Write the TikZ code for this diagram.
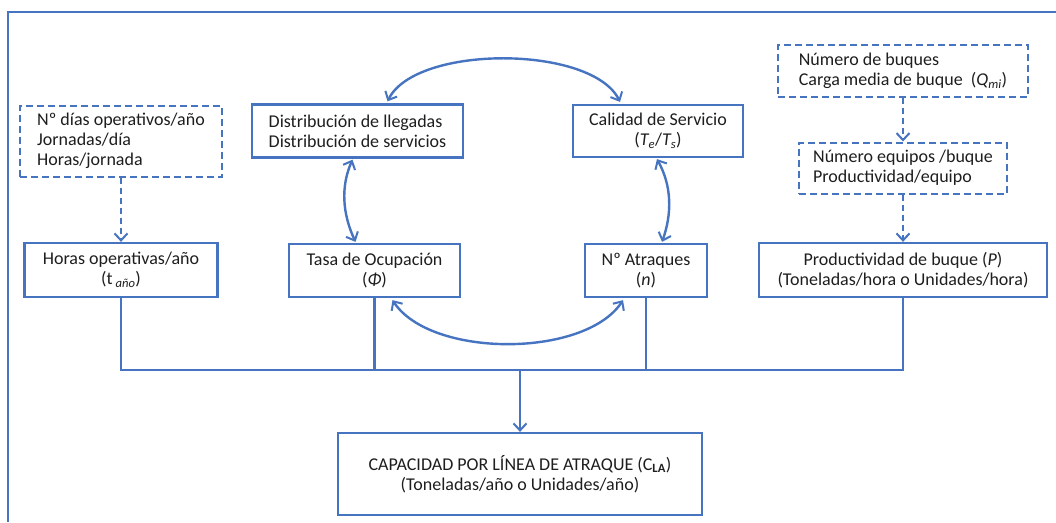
\documentclass[tikz,border=0pt]{standalone}
\usepackage{fontspec}
\setmainfont{Carlito}
\usetikzlibrary{arrows.meta,calc}
\definecolor{bl}{HTML}{4674C0}
\definecolor{tx}{HTML}{1E1E1E}
\begin{document}
\begin{tikzpicture}[x=1pt,y=-1pt,
  box/.style={draw=bl, line width=2.3pt, fill=white, text=tx, align=center, inner sep=0pt, font=\fontsize{18}{20}\selectfont},
  dbox/.style={box, dash pattern=on 7pt off 4pt, line width=2pt, align=left},
  conn/.style={draw=bl, line width=2.4pt},
  dconn/.style={draw=bl, line width=2pt, dash pattern=on 6pt off 4pt},
  tip/.style={-{Straight Barb[length=7pt,width=13pt,line width=2pt]}},
  dtip/.style={{Straight Barb[length=7pt,width=13pt,line width=2pt]}-{Straight Barb[length=7pt,width=13pt,line width=2pt]}}
]
\useasboundingbox (0,0) rectangle (1056,522);
\fill[white] (0,0) rectangle (1056,522);
\coordinate (fa) at (8,522);
\coordinate (fb) at (8,12);
\coordinate (fc) at (1056,12);
\draw[conn, line width=2.6pt] (fa) -- (fb) -- (fc);

\node[dbox, minimum width=202pt, minimum height=71pt] (dias) at (121,141)
  {Nº días operativos/año\\Jornadas/día\\Horas/jornada};
\node[box, minimum width=193pt, minimum height=54pt] (horas) at (121,270)
  {Horas operativas/año\\(t\,\textsubscript{\itshape año})};
\node[box, align=left, minimum width=211pt, minimum height=53pt] (dist) at (357.5,131)
  {Distribución de llegadas\\Distribución de servicios};
\node[box, minimum width=170pt, minimum height=52pt] (cal) at (658,131)
  {Calidad de Servicio\\({\itshape T}\textsubscript{\itshape e}/{\itshape T}\textsubscript{\itshape s})};
\node[box, minimum width=171pt, minimum height=53pt] (tasa) at (374.5,270.5)
  {Tasa de Ocupación\\({\itshape Φ})};
\node[box, minimum width=122pt, minimum height=53pt] (atr) at (646,270.5)
  {Nº Atraques\\({\itshape n})};
\node[box, minimum width=288pt, minimum height=54pt] (prod) at (903,270)
  {Productividad de buque ({\itshape P})\\(Toneladas/hora o Unidades/hora)};
\node[dbox, minimum width=250pt, minimum height=52pt] (buques) at (903,71)
  {Número de buques\\Carga media de buque\ \ ({\itshape Q}\textsubscript{\itshape mi})};
\node[dbox, minimum width=208pt, minimum height=51pt] (equipos) at (903,168)
  {Número equipos /buque\\Productividad/equipo};
\node[box, minimum width=364pt, minimum height=82pt] (cap) at (520,474)
  {CAPACIDAD POR LÍNEA DE ATRAQUE (C\textsubscript{\bfseries LA})\\(Toneladas/año o Unidades/año)};

% dashed feeders
\draw[dconn, tip] (dias.south) -- (horas.north);
\draw[dconn, tip] (buques.south) -- (equipos.north);
\draw[dconn, tip] (equipos.south) -- (prod.north);

% cycle of double arrows
\draw[conn, dtip] ($(dist.north)+(30,-2)$) .. controls +(28,-57) and +(-28,-57) .. ($(cal.north)+(-38,-2)$);
\draw[conn, dtip] ($(tasa.south)+(18,2)$) .. controls +(38,58) and +(-38,58) .. ($(atr.south)+(-23,2)$);
\draw[conn, dtip] ($(dist.south)+(-5,1)$) .. controls +(-12,27) and +(-13,-28) .. ($(tasa.north)+(-19,-1)$);
\draw[conn, dtip] ($(cal.south)+(-1,1)$) .. controls +(15,27) and +(10,-28) .. ($(atr.north)+(16,-1)$);

% collector
\coordinate (j) at (520,370);
\draw[conn] (horas.south) -- (horas.south |- j) -- (j -| prod.south) -- (prod.south);
\draw[conn] (tasa.south) -- (tasa.south |- j);
\draw[conn] (atr.south) -- (atr.south |- j);
\draw[conn, tip] (j) -- (cap.north);
\end{tikzpicture}
\end{document}
